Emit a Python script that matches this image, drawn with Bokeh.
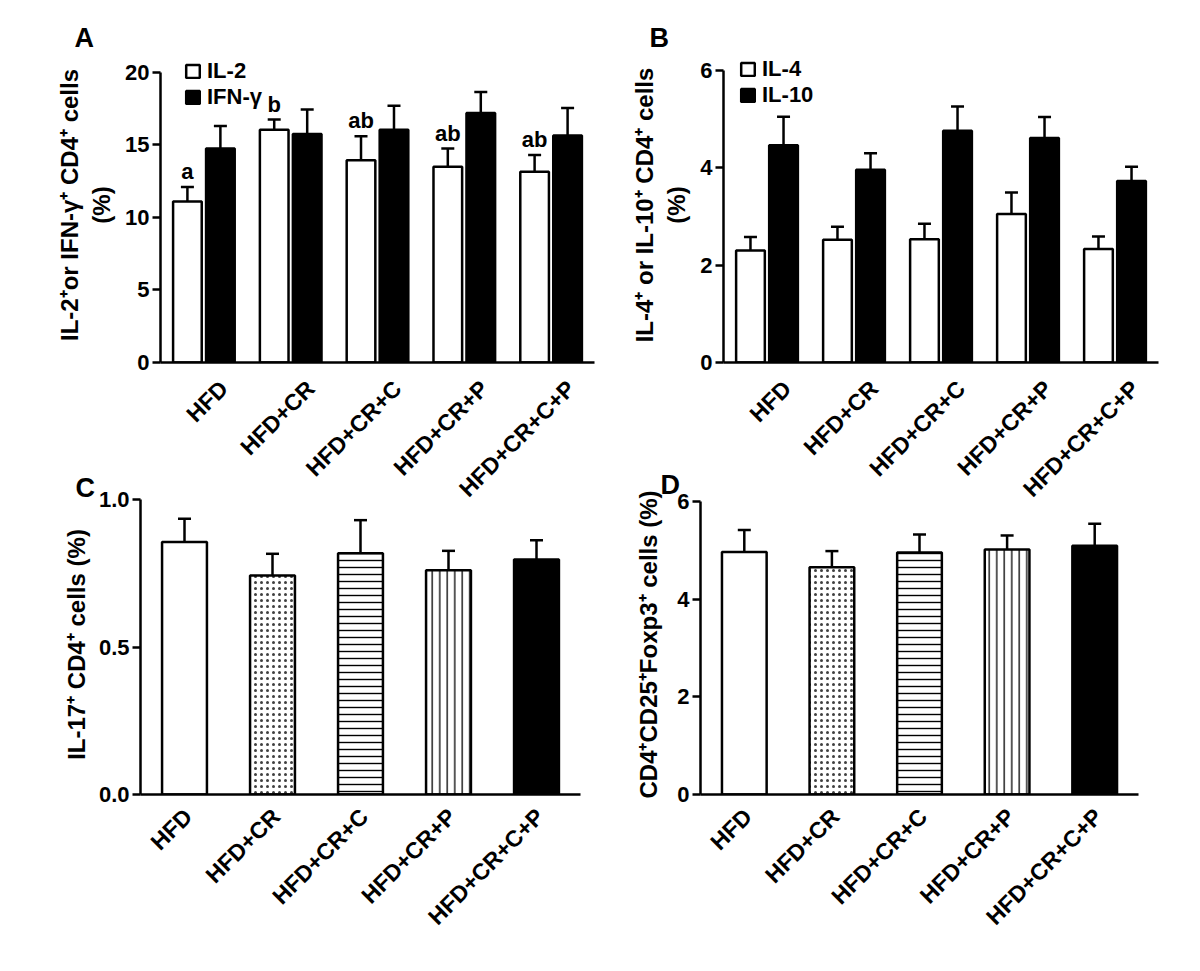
import math
from bokeh.plotting import figure
from bokeh.models import (ColumnDataSource, Whisker, TeeHead, FixedTicker, Range1d,
                          Legend, LegendItem, Title, PrintfTickFormatter)
from bokeh.layouts import row, column
from bokeh.embed import file_html
from bokeh.resources import INLINE

# ---------------- data ----------------
categories = ["HFD", "HFD+CR", "HFD+CR+C", "HFD+CR+P", "HFD+CR+C+P"]

# Panel A
il2 = [11.1, 16.05, 13.95, 13.5, 13.15]
il2_err = [1.0, 0.7, 1.65, 1.25, 1.15]
ifn = [14.75, 15.75, 16.05, 17.2, 15.65]
ifn_err = [1.55, 1.7, 1.65, 1.45, 1.9]
letters_a = ["a", "b", "ab", "ab", "ab"]
ticks_a = [0, 5, 10, 15, 20]

# Panel B
il4 = [2.3, 2.52, 2.53, 3.05, 2.33]
il4_err = [0.28, 0.27, 0.32, 0.44, 0.26]
il10 = [4.46, 3.96, 4.76, 4.61, 3.73]
il10_err = [0.59, 0.34, 0.5, 0.43, 0.29]
ticks_b = [0, 2, 4, 6]

# Panel C
il17 = [0.856, 0.742, 0.818, 0.76, 0.797]
il17_err = [0.079, 0.074, 0.112, 0.066, 0.065]
ticks_c = [0.0, 0.5, 1.0]

# Panel D
treg = [4.97, 4.66, 4.96, 5.02, 5.1]
treg_err = [0.45, 0.33, 0.37, 0.29, 0.45]
ticks_d = [0, 2, 4, 6]

FONT = "Liberation Sans"
LW = 2.5

xpos = [i + 0.5 for i in range(len(categories))]


def make_fig(ymax, ytop, yticks, fw, fh, bl, br, bt, bb, ylabel, standoff,
             letter, loff, lstand, xshift, xstand, transparent=False, fmt=None):
    p = figure(output_backend="svg", toolbar_location=None,
               frame_width=fw, frame_height=fh,
               x_range=Range1d(0, len(categories)), y_range=Range1d(0, ytop),
               min_border_left=bl, min_border_right=br,
               min_border_top=bt, min_border_bottom=bb)
    p.title = Title(text=letter, align="left", offset=loff, standoff=lstand,
                    text_font=FONT, text_font_style="bold", text_font_size="27px",
                    text_color="black")
    p.outline_line_color = None
    p.grid.visible = False
    if transparent:
        p.border_fill_color = None
        p.background_fill_color = None
    for ax in (p.xaxis[0], p.yaxis[0]):
        ax.axis_line_width = LW
        ax.axis_line_color = "black"
        ax.major_label_text_font = FONT
        ax.major_label_text_font_style = "bold"
        ax.major_label_text_color = "black"
        ax.minor_tick_line_color = None
    xa = p.xaxis[0]
    xt = [x + xshift for x in xpos]
    xa.ticker = FixedTicker(ticks=xt)
    xa.major_label_overrides = {x: c for x, c in zip(xt, categories)}
    xa.major_tick_line_color = None
    xa.major_label_orientation = math.pi / 4
    xa.major_label_standoff = xstand
    xa.major_label_text_font_size = "23px"
    ya = p.yaxis[0]
    ya.bounds = (0, ymax)
    ya.ticker = FixedTicker(ticks=yticks)
    if fmt:
        ya.formatter = PrintfTickFormatter(format=fmt)
    ya.major_label_text_font_size = "22px"
    ya.major_tick_line_width = LW
    ya.major_tick_out = 8
    ya.major_tick_in = 0
    ya.major_label_standoff = 3
    ya.axis_label = ylabel
    ya.axis_label_text_font = FONT
    ya.axis_label_text_font_style = "bold"
    ya.axis_label_text_font_size = "24px"
    ya.axis_label_text_color = "black"
    ya.axis_label_standoff = standoff
    ya.axis_label_text_line_height = 1.2
    return p


def add_err(p, xs, vals, errs):
    src = ColumnDataSource(dict(x=xs, lower=vals, upper=[v + e for v, e in zip(vals, errs)]))
    w = Whisker(base="x", lower="lower", upper="upper", source=src, dimension="height",
                line_width=LW, line_color="black",
                upper_head=TeeHead(size=13, line_width=LW, line_color="black"),
                lower_head=None)
    p.add_layout(w)


def grouped(p, v1, e1, v2, e2, n1, n2, loc, bw=0.33, off=0.19):
    x1 = [x - off for x in xpos]
    x2 = [x + off for x in xpos]
    r1 = p.vbar(x=x1, top=v1, width=bw, fill_color="white", line_color="black", line_width=LW)
    r2 = p.vbar(x=x2, top=v2, width=bw, fill_color="black", line_color="black", line_width=LW)
    add_err(p, x1, v1, e1)
    add_err(p, x2, v2, e2)
    leg = Legend(items=[LegendItem(label=n1, renderers=[r1]), LegendItem(label=n2, renderers=[r2])],
                 location=loc, orientation="vertical",
                 label_text_font=FONT, label_text_font_style="bold", label_text_font_size="22px",
                 label_text_color="black",
                 glyph_width=17, glyph_height=16, label_standoff=6, spacing=0,
                 padding=0, margin=0, border_line_color=None, background_fill_alpha=0)
    p.add_layout(leg)
    return x1


# ---------------- Panel A ----------------
pA = make_fig(20, 21.72, ticks_a, 434, 315, 160, 18, 47, 135,
              "IL-2\u207aor IFN-\u03b3\u207a CD4\u207a cells\n(%)", 7,
              "A", -86, -10, 0.23, 16)
x1 = grouped(pA, il2, il2_err, ifn, ifn_err, "IL-2", "IFN-\u03b3", (24, 252))
tsrc = ColumnDataSource(dict(x=x1, y=[v + e for v, e in zip(il2, il2_err)], t=letters_a))
pA.text(x="x", y="y", text="t", source=tsrc, text_align="center", text_baseline="bottom",
        y_offset=-3, text_font_size="22px", text_font_style="bold",
        text_font={"value": FONT}, text_color="black")

# ---------------- Panel B ----------------
pB = make_fig(6, 6.47, ticks_b, 435, 315, 111, 15, 47, 135,
              "IL-4\u207a or IL-10\u207a CD4\u207a cells\n(%)", 7,
              "B", -74, -10, 0.23, 16)
grouped(pB, il4, il4_err, il10, il10_err, "IL-4", "IL-10", (16, 254))

# ---------------- Panel C & D (patterned single bars) ----------------
fills = ["white", "white", "white", "white", "black"]
hatches = [None, "dot", "horizontal_line", "vertical_line", None]
hatch_scales = [7, 6, 7, 7.5, 7]
hatch_weights = [1, 0.5, 1.4, 1.3, 1]
hatch_alphas = [1, 0.75, 1, 1, 1]


def single(p, vals, errs):
    for i in range(len(vals)):
        kw = {}
        if hatches[i]:
            kw = dict(hatch_pattern=hatches[i], hatch_color="black", hatch_scale=hatch_scales[i],
                      hatch_weight=hatch_weights[i], hatch_alpha=hatch_alphas[i])
        p.vbar(x=[xpos[i]], top=[vals[i]], width=0.51, fill_color=fills[i],
               line_color="black", line_width=LW, **kw)
    add_err(p, xpos, vals, errs)


pC = make_fig(1.0, 1.017, ticks_c, 440, 300, 140, 52, 29, 150,
              "IL-17\u207a CD4\u207a cells (%)", 6, "C", -65, -17, 0.04, 12,
              transparent=True, fmt="%.1f")
single(pC, il17, il17_err)

pD = make_fig(6, 6.15, ticks_d, 438, 300, 64, 39, 29, 150,
              "CD4\u207aCD25\u207aFoxp3\u207a cells (%)", 12, "D", -40, -11, 0.04, 12,
              transparent=True)
single(pD, treg, treg_err)

layout = column(row(pA, pB), row(pC, pD, margin=(-48, 0, 0, 0)))
open("out.html", "w").write(file_html(layout, INLINE))
